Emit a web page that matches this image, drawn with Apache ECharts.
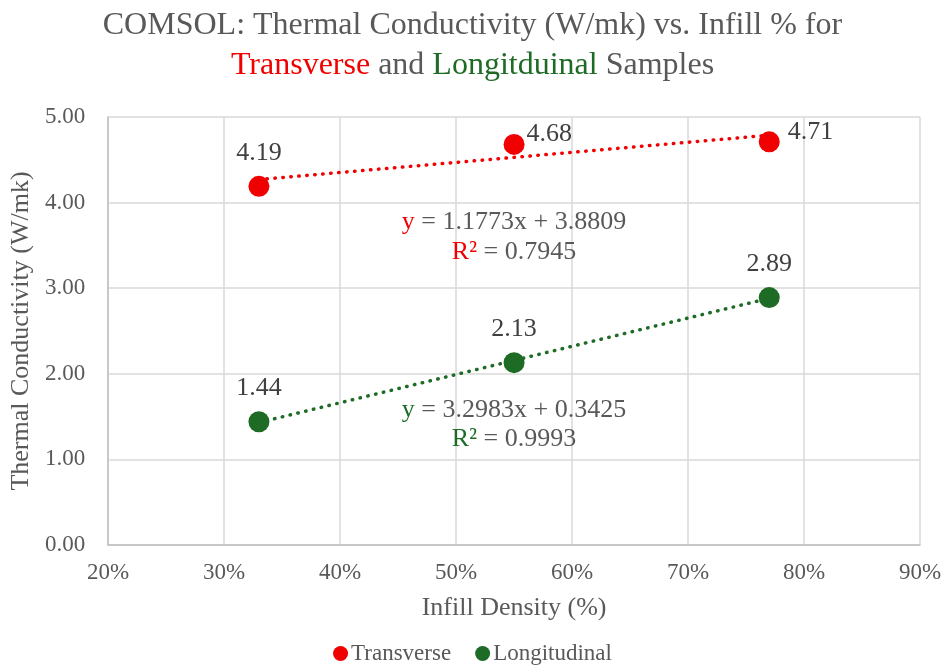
<!DOCTYPE html>
<html>
<head>
<meta charset="utf-8">
<script src="https://cdn.jsdelivr.net/npm/echarts@6/dist/echarts.min.js"></script>
<style>
  html, body { margin: 0; padding: 0; background: #fff; }
  #chart { width: 945px; height: 670px; }
</style>
</head>
<body>
<div id="chart"></div>
<script>
// Infill density (fraction) for each sample set
const infill = [0.33, 0.55, 0.77];
// Thermal conductivity (W/mk)
const transverse = [4.19, 4.68, 4.71];
const longitudinal = [1.44, 2.13, 2.89];
// Linear trendline fits: y = slope * x + intercept
const trendSlope = [1.1773, 3.2983];
const trendIntercept = [3.8809, 0.3425];
const trendR2 = [0.7945, 0.9993];
const seriesNames = ['Transverse', 'Longitudinal'];

const RED = '#f00000';
const GREEN = '#1e6b26';
const GREY = '#595959';
const LABEL = '#404040';
const FONT = '"Liberation Serif", "Times New Roman", serif';

function trendPoints(i) {
  const xs = [infill[0], infill[infill.length - 1]];
  return xs.map(x => [x, trendSlope[i] * x + trendIntercept[i]]);
}

function eqText(i) {
  return '{c|y} = ' + trendSlope[i].toFixed(4) + 'x + ' + trendIntercept[i].toFixed(4) +
    '\n{c|R²} = ' + trendR2[i].toFixed(4);
}

// label placement for the transverse data labels (first above, others to the right)
const tLabelStyle = [
  { position: 'top', distance: 10 },
  { position: 'right', distance: 2, offset: [0, -10] },
  { position: 'right', distance: 8, offset: [0, -10] }
];

const dotted = { width: 3.5, type: [0.5, 7.5], cap: 'round' };

const chart = echarts.init(document.getElementById('chart'));
chart.setOption({
  animation: false,
  textStyle: { fontFamily: FONT },
  title: {
    text: 'COMSOL: Thermal Conductivity (W/mk) vs. Infill % for\n{r|Transverse} and {g|Longitduinal} Samples',
    left: 'center',
    top: 1,
    textStyle: {
      fontFamily: FONT, fontSize: 32, fontWeight: 'normal', color: GREY, lineHeight: 40,
      rich: {
        r: { fontFamily: FONT, fontSize: 32, color: RED, lineHeight: 40 },
        g: { fontFamily: FONT, fontSize: 32, color: GREEN, lineHeight: 40 }
      }
    }
  },
  grid: { left: 108, right: 25, top: 117, bottom: 125, containLabel: false },
  xAxis: {
    type: 'value', min: 0.2, max: 0.9, interval: 0.1,
    name: 'Infill Density (%)', nameLocation: 'middle', nameGap: 50,
    nameTextStyle: { fontFamily: FONT, fontSize: 26, color: GREY },
    axisLine: { show: true, lineStyle: { color: '#bfbfbf', width: 1.5 } },
    axisTick: { show: false },
    splitLine: { show: true, lineStyle: { color: '#d9d9d9', width: 1.5 } },
    axisLabel: {
      fontFamily: FONT, fontSize: 23, color: GREY, margin: 16,
      formatter: v => Math.round(v * 100) + '%'
    }
  },
  yAxis: {
    type: 'value', min: 0, max: 5, interval: 1,
    name: 'Thermal Conductivity (W/mk)', nameLocation: 'middle', nameGap: 72,
    nameTextStyle: { fontFamily: FONT, fontSize: 26, color: GREY },
    axisLine: { show: true, lineStyle: { color: '#bfbfbf', width: 1.5 } },
    axisTick: { show: false },
    splitLine: { show: true, lineStyle: { color: '#d9d9d9', width: 1.5 } },
    axisLabel: {
      fontFamily: FONT, fontSize: 23, color: GREY, margin: 23,
      formatter: v => v.toFixed(2)
    }
  },
  legend: {
    bottom: 0, left: 'center',
    data: seriesNames,
    icon: 'circle', itemWidth: 15, itemHeight: 15, itemGap: 24,
    textStyle: { fontFamily: FONT, fontSize: 23, color: GREY, padding: [0, 0, 0, -2] }
  },
  series: [
    {
      name: 'Transverse trend', type: 'line', data: trendPoints(0),
      showSymbol: false, silent: true,
      lineStyle: Object.assign({ color: RED }, dotted), z: 2
    },
    {
      name: 'Longitudinal trend', type: 'line', data: trendPoints(1),
      showSymbol: false, silent: true,
      lineStyle: Object.assign({ color: GREEN }, dotted), z: 2
    },
    {
      name: seriesNames[0], type: 'scatter', symbolSize: 21,
      itemStyle: { color: RED, opacity: 1 },
      data: infill.map((x, k) => ({
        value: [x, transverse[k]],
        label: tLabelStyle[k]
      })),
      label: {
        show: true, fontFamily: FONT, fontSize: 26, color: LABEL,
        formatter: p => p.value[1].toFixed(2)
      },
      z: 3
    },
    {
      name: seriesNames[1], type: 'scatter', symbolSize: 21,
      itemStyle: { color: GREEN, opacity: 1 },
      data: infill.map((x, k) => [x, longitudinal[k]]),
      label: {
        show: true, position: 'top', distance: 10,
        fontFamily: FONT, fontSize: 26, color: LABEL,
        formatter: p => p.value[1].toFixed(2)
      },
      z: 3
    }
  ],
  graphic: [
    {
      type: 'text', x: 514, y: 207, z: 10,
      style: {
        text: eqText(0), textAlign: 'center',
        font: '26px ' + FONT, fill: GREY, lineHeight: 30,
        rich: { c: { fill: RED, font: '26px ' + FONT, lineHeight: 30 } }
      }
    },
    {
      type: 'text', x: 514, y: 396, z: 10,
      style: {
        text: eqText(1), textAlign: 'center',
        font: '26px ' + FONT, fill: GREY, lineHeight: 29,
        rich: { c: { fill: GREEN, font: '26px ' + FONT, lineHeight: 29 } }
      }
    }
  ]
});
</script>
</body>
</html>
